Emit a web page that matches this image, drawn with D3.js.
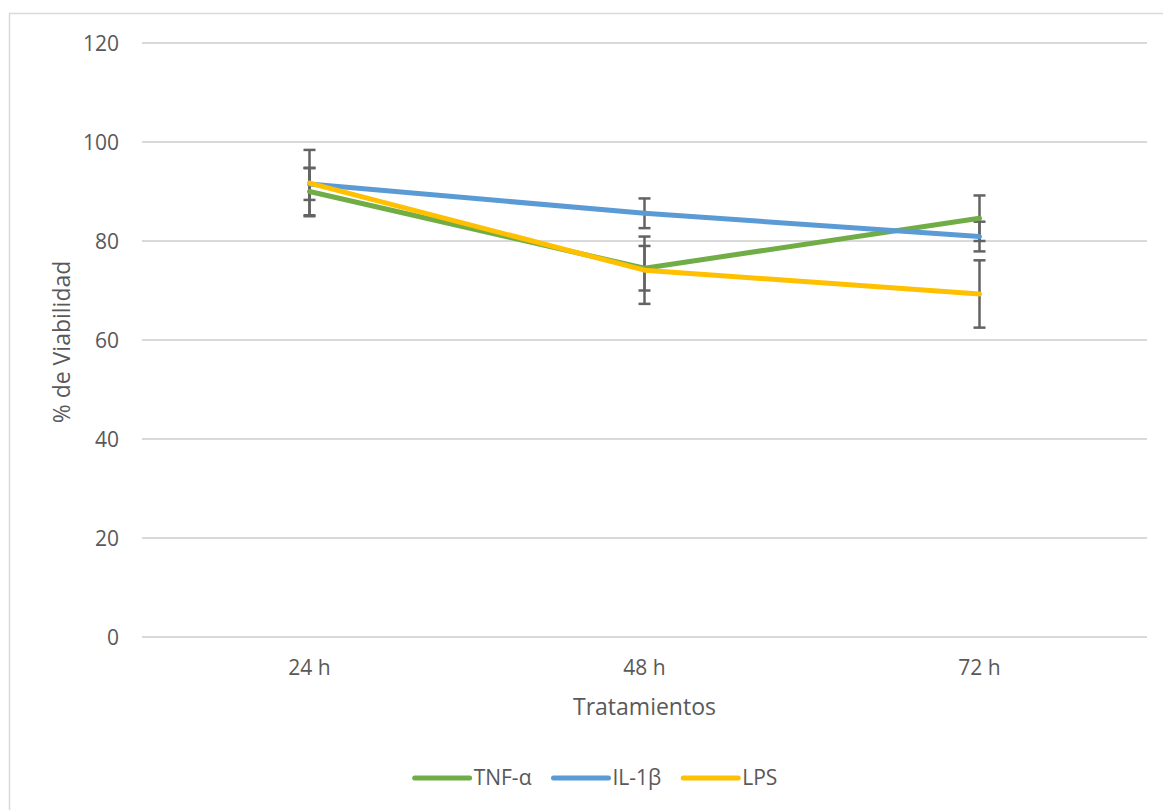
<!DOCTYPE html>
<html>
<head>
<meta charset="utf-8">
<script src="https://cdn.jsdelivr.net/npm/d3@7"></script>
<style>
  html, body { margin: 0; padding: 0; background: #fff; }
  svg { display: block; }
  text { font-family: "Open Sans", sans-serif; fill: #595959; }
</style>
</head>
<body>
<svg id="chart" width="1163" height="810"></svg>
<script>
const categories = ["24 h", "48 h", "72 h"];
const seriesNames = ["TNF-α", "IL-1β", "LPS"];
const tnfValues = [90.0, 74.5, 84.6];
const tnfErrors = [4.8, 4.5, 4.6];
const il1bValues = [91.5, 85.6, 80.9];
const il1bErrors = [3.2, 3.0, 3.0];
const lpsValues = [91.7, 74.1, 69.3];
const lpsErrors = [6.7, 6.8, 6.8];
const yTicks = [0, 20, 40, 60, 80, 100, 120];
const colors = ["#70AD47", "#5B9BD5", "#FFC000"];

const series = [
  { name: seriesNames[0], values: tnfValues, errors: tnfErrors, color: colors[0] },
  { name: seriesNames[1], values: il1bValues, errors: il1bErrors, color: colors[1] },
  { name: seriesNames[2], values: lpsValues, errors: lpsErrors, color: colors[2] }
];

const svg = d3.select("#chart");

// outer chart border
svg.append("rect")
  .attr("x", 9.5).attr("y", 13.5)
  .attr("width", 1200).attr("height", 900)
  .attr("fill", "none").attr("stroke", "#d9d9d9").attr("stroke-width", 1.5);

const plot = { left: 142, right: 1147, top: 43, bottom: 637 };

const x = d3.scaleBand().domain(categories).range([plot.left, plot.right]);
const y = d3.scaleLinear().domain([0, 120]).range([plot.bottom, plot.top]);
const cx = c => x(c) + x.bandwidth() / 2;

// gridlines
svg.append("g").selectAll("line").data(yTicks).join("line")
  .attr("x1", plot.left).attr("x2", plot.right)
  .attr("y1", d => y(d)).attr("y2", d => y(d))
  .attr("stroke", "#d9d9d9").attr("stroke-width", 2);

// y axis labels
const yAxis = d3.axisLeft(y).tickValues(yTicks).tickSize(0).tickPadding(0);
const gy = svg.append("g").attr("transform", `translate(119,0)`).call(yAxis);
gy.select(".domain").remove();
gy.selectAll("text").style("font-family", '"Open Sans", sans-serif')
  .style("font-size", "21px").attr("fill", "#595959").attr("dy", "0.35em");

// x axis labels
const xAxis = d3.axisBottom(x).tickSize(0).tickPadding(0);
const gx = svg.append("g").attr("transform", `translate(0,${plot.bottom})`).call(xAxis);
gx.select(".domain").remove();
gx.selectAll("text").style("font-family", '"Open Sans", sans-serif')
  .style("font-size", "21px").attr("fill", "#595959").attr("y", 38).attr("dy", 0);

// axis titles
svg.append("text").attr("x", cx(categories[1])).attr("y", 715)
  .attr("text-anchor", "middle").style("font-size", "23px").text("Tratamientos");
svg.append("text")
  .attr("transform", `translate(70,${(plot.top + plot.bottom) / 2 + 2}) rotate(-90)`)
  .attr("text-anchor", "middle").style("font-size", "23px").text("% de Viabilidad");

// error bars
const capW = 6;
const eb = svg.append("g");
series.forEach(s => {
  categories.forEach((c, i) => {
    const xc = cx(c);
    const hi = y(s.values[i] + s.errors[i]);
    const lo = y(s.values[i] - s.errors[i]);
    eb.append("line").attr("x1", xc).attr("x2", xc).attr("y1", hi).attr("y2", lo)
      .attr("stroke", "#636363").attr("stroke-width", 2.5);
    [hi, lo].forEach(yy => eb.append("line")
      .attr("x1", xc - capW).attr("x2", xc + capW).attr("y1", yy).attr("y2", yy)
      .attr("stroke", "#636363").attr("stroke-width", 2.5));
  });
});

// lines
const line = d3.line().x((d, i) => cx(categories[i])).y(d => y(d));
svg.append("g").selectAll("path").data(series).join("path")
  .attr("d", s => line(s.values))
  .attr("fill", "none").attr("stroke", s => s.color)
  .attr("stroke-width", 5).attr("stroke-linecap", "round").attr("stroke-linejoin", "round");

// legend
const legend = svg.append("g");
const ly = 778;
const items = series.map(s => {
  const g = legend.append("g");
  g.append("line").attr("x1", 0).attr("x2", 55).attr("y1", 0).attr("y2", 0)
    .attr("stroke", s.color).attr("stroke-width", 5).attr("stroke-linecap", "round");
  const t = g.append("text").attr("x", 59).attr("y", 0).attr("dy", "0.35em")
    .style("font-size", "21px").text(s.name);
  return { g, w: 59 + t.node().getComputedTextLength() };
});
const gap = 22;
const total = d3.sum(items, d => d.w) + gap * (items.length - 1);
let lx = 596 - total / 2;
items.forEach(it => {
  it.g.attr("transform", `translate(${lx},${ly})`);
  lx += it.w + gap;
});
</script>
</body>
</html>
